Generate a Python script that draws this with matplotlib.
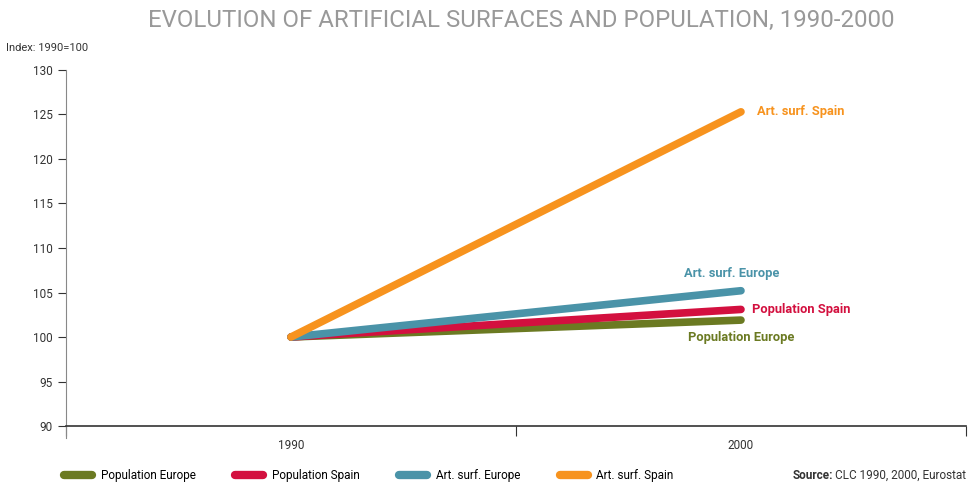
import matplotlib.pyplot as plt
from matplotlib.lines import Line2D

plt.rcParams['font.family'] = ['Roboto', 'DejaVu Sans']

years = ['1990', '2000']
pop_europe = [100, 101.9]
pop_spain = [100, 103.1]
art_europe = [100, 105.2]
art_spain = [100, 125.3]

series = [
    ('Population Europe', pop_europe, '#6b7a22'),
    ('Population Spain', pop_spain, '#d3103f'),
    ('Art. surf. Europe', art_europe, '#4a93a8'),
    ('Art. surf. Spain', art_spain, '#f7931e'),
]

fig = plt.figure(figsize=(9.72, 4.84), dpi=100)
ax = fig.add_axes([0.0679, 0.1198, 0.9259, 0.7356])

xpos = [0.5, 1.5]
# draw back to front so the orange line sits on top
for name, vals, col in series:
    ax.plot(xpos, vals, color=col, lw=5.5, solid_capstyle='round', zorder=3)

# end-of-line labels
lab = dict(fontsize=9.3, fontweight='bold', va='center')
ax.text(1.535, art_spain[1], 'Art. surf. Spain', color='#f7931e', ha='left', **lab)
ax.text(1.48, art_europe[1] + 1.9, 'Art. surf. Europe', color='#4a93a8', ha='center', **lab)
ax.text(1.525, pop_spain[1], 'Population Spain', color='#d3103f', ha='left', **lab)
ax.text(1.5, pop_europe[1] - 1.9, 'Population Europe', color='#6b7a22', ha='center', **lab)

ax.set_xlim(0, 2)
ax.set_ylim(90, 130)
ax.set_yticks(range(90, 131, 5))
ax.set_xticks([0, 1, 2])
ax.set_xticklabels([])
ax.set_xticks(xpos, minor=True)
ax.set_xticklabels(years, minor=True)
ax.tick_params(axis='x', which='minor', length=0, pad=9, labelsize=8.5, labelcolor='#333333')
ax.tick_params(axis='x', which='major', length=7, direction='out', color='#333333')
ax.tick_params(axis='y', length=6, color='#333333', labelsize=8.5, labelcolor='#333333')

for s in ['top', 'right']:
    ax.spines[s].set_visible(False)
ax.spines['left'].set_color('#888888')
ax.spines['left'].set_bounds(88.6, 130)
ax.spines['bottom'].set_color('#333333')
ax.spines['bottom'].set_linewidth(1.2)

fig.text(0.536, 0.958, 'EVOLUTION OF ARTIFICIAL SURFACES AND POPULATION, 1990-2000',
         ha='center', va='center', fontsize=17.3, color='#999999')
fig.text(0.006, 0.9, 'Index: 1990=100', fontsize=8, color='#333333', va='center')

handles = [Line2D([0], [0], color=c, lw=6, solid_capstyle='round') for _, _, c in series]
fig.legend(handles, [n for n, _, _ in series], loc='center left',
           bbox_to_anchor=(0.055, 0.018), ncol=4, frameon=False, fontsize=8.5,
           handlelength=2.4, columnspacing=3.35, handletextpad=0.7)

fig.text(0.994, 0.018, 'CLC 1990, 2000, Eurostat', ha='right',
         va='center', fontsize=8.5, color='#333333')
fig.text(0.857, 0.018, 'Source:', ha='right', va='center', fontsize=8.5,
         color='#333333', fontweight='bold')

fig.savefig('out.png', dpi=100)
